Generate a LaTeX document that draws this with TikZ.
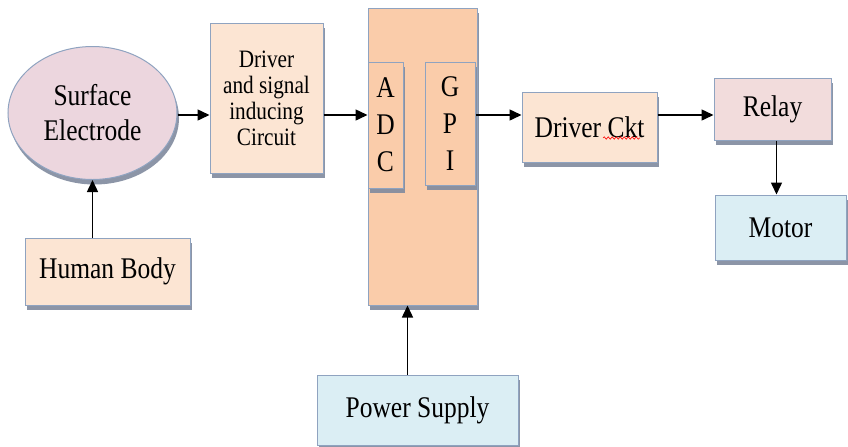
\documentclass[tikz,border=0pt]{standalone}
\usepackage{fontspec}
\setmainfont[FakeStretch=0.85]{Liberation Serif}
\usetikzlibrary{arrows.meta,shadows,shapes.geometric,decorations.pathmorphing,calc}
\definecolor{bline}{RGB}{143,163,192}
\definecolor{bshad}{RGB}{128,138,158}
\definecolor{cpink}{RGB}{236,214,222}
\definecolor{cpeach}{RGB}{252,229,211}
\definecolor{corange}{RGB}{250,204,170}
\definecolor{crelay}{RGB}{242,220,220}
\definecolor{cblue}{RGB}{219,238,244}
\tikzset{
  blk/.style={draw=bline, line width=0.5pt, fill=cpeach, inner sep=0pt, align=center,
              font=\fontsize{15pt}{18pt}\selectfont,
              drop shadow={shadow xshift=1pt, shadow yshift=-2.5pt, fill=bshad, opacity=0.9}},
  ell/.style={blk, ellipse, fill=cpink},
  vtxt/.style={font=\fontsize{15pt}{18.5pt}\selectfont},
  arr/.style={-{Triangle[length=6pt, width=5.5pt]}, line width=0.75pt, black},
  wav/.style={red, line width=0.3pt, decorate, decoration={snake, amplitude=0.6pt, segment length=2pt}},
}

\begin{document}
\begin{tikzpicture}[x=0.5pt, y=-0.5pt]
  \useasboundingbox[fill=white] (0,0) rectangle (848,446);
  \node[ell, minimum width=84.5pt, minimum height=66.5pt,
        font=\fontsize{15pt}{17.5pt}\selectfont] (se) at (92.5,113) {Surface\\Electrode};
  \node[blk, minimum width=56.5pt, minimum height=75pt,
        font=\fontsize{12.5pt}{13pt}\selectfont] (drv) at (266.5,98) {Driver\\and signal\\inducing\\Circuit};
  \node[blk, fill=corange, minimum width=54.5pt, minimum height=148.5pt] (mcu) at (422.5,156.5) {};
  \node[blk, fill=corange, vtxt, minimum width=17.5pt, minimum height=63pt] (adc) at (385.5,125) {A\\D\\C};
  \node[blk, fill=corange, vtxt, minimum width=25pt, minimum height=61.5pt] (gpi) at (450,123.5) {G\\P\\I};
  \node[blk, minimum width=67.5pt, minimum height=35pt] (dck) at (589.5,127) {Driver Ckt};
  \node[blk, fill=crelay, minimum width=58.5pt, minimum height=31pt] (rly) at (772.5,109) {Relay};
  \node[blk, fill=cblue, minimum width=65.5pt, minimum height=32.5pt] (mot) at (780.5,227.5) {Motor};
  \node[blk, minimum width=82.5pt, minimum height=33.5pt] (hb) at (107.5,271.5) {Human Body};
  \node[blk, fill=cblue, minimum width=100.5pt, minimum height=35pt] (ps) at (417.5,410) {Power Supply};
  \coordinate (row) at (0,115);
  \draw[wav] ($(dck.center)+(13.5,11)$) -- ($(dck.center)+(50.5,11)$);

  \draw[arr] (se.east |- row) -- (drv.west |- row);
  \draw[arr] (drv.east |- row) -- (adc.west |- row);
  \draw[arr] (gpi.east |- row) -- (dck.west |- row);
  \draw[arr] (dck.east |- row) -- (rly.west |- row);
  \draw[arr] ([xshift=2pt]rly.south) -- ([xshift=2pt]rly.south |- mot.north);
  \draw[arr] (se.south |- hb.north) -- (se.south);
  \draw[arr] ([xshift=-5pt]ps.north) -- ([xshift=-5pt]ps.north |- mcu.south);
\end{tikzpicture}
\end{document}
